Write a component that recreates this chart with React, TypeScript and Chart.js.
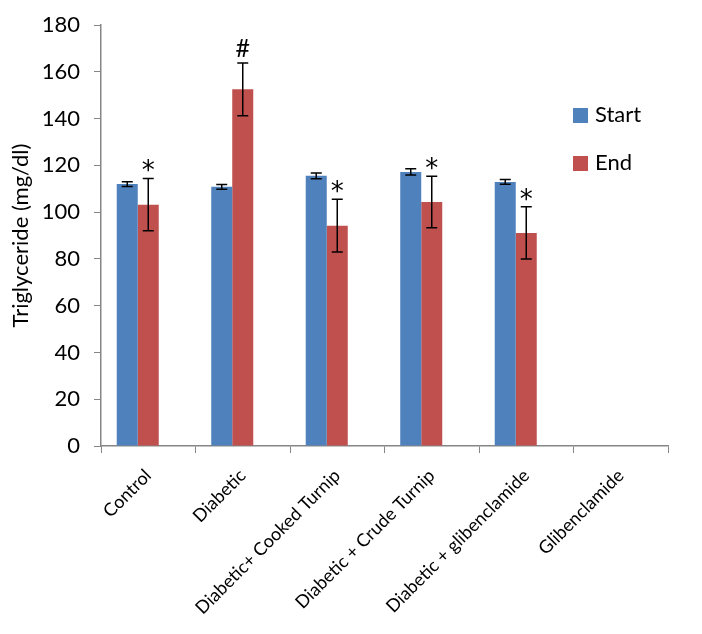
import React, { useEffect, useRef } from "react";
import { Chart, registerables } from "chart.js";

Chart.register(...registerables);

const categories = [
  "Control",
  "Diabetic",
  "Diabetic+ Cooked Turnip",
  "Diabetic + Crude Turnip",
  "Diabetic + glibenclamide",
  "Glibenclamide",
];
const startValues = [112, 110.8, 115.5, 117.2, 112.9, null];
const startErrors = [1, 1, 1.2, 1.3, 1, null];
const endValues = [103.2, 152.5, 94.2, 104.3, 91.1, null];
const endErrors = [11.2, 11.3, 11.3, 11, 11.2, null];
const endMarks = ["*", "#", "*", "*", "*", ""];
const seriesLabels = ["Start", "End"];
const seriesColors = ["#4F81BD", "#C0504D"];
const yMin = 0;
const yMax = 180;
const yStep = 20;
const yTitle = "Triglyceride (mg/dl)";

const FONT = "Lato";

const errorBarPlugin = {
  id: "errorBars",
  afterDatasetsDraw(chart: any) {
    const ctx = chart.ctx;
    const yScale = chart.scales.y;
    const errs = [startErrors, endErrors];
    const vals = [startValues, endValues];
    ctx.save();
    ctx.strokeStyle = "#000";
    ctx.lineWidth = 1.5;
    for (let d = 0; d < 2; d++) {
      const meta = chart.getDatasetMeta(d);
      meta.data.forEach((bar: any, i: number) => {
        const v = vals[d][i];
        const e = errs[d][i];
        if (v == null || e == null) return;
        const x = bar.x;
        const yt = yScale.getPixelForValue(v + e);
        const yb = yScale.getPixelForValue(v - e);
        const cap = 5.5;
        ctx.beginPath();
        ctx.moveTo(x, yt);
        ctx.lineTo(x, yb);
        ctx.moveTo(x - cap, yt);
        ctx.lineTo(x + cap, yt);
        ctx.moveTo(x - cap, yb);
        ctx.lineTo(x + cap, yb);
        ctx.stroke();
      });
    }
    // significance marks above End bars
    const meta = chart.getDatasetMeta(1);
    ctx.fillStyle = "#000";
    ctx.textAlign = "center";
    ctx.textBaseline = "alphabetic";
    meta.data.forEach((bar: any, i: number) => {
      const mark = endMarks[i];
      const v = endValues[i];
      const e = endErrors[i];
      if (!mark || v == null || e == null) return;
      ctx.font = mark === "*" ? `26px "DejaVu Sans"` : `25px ${FONT}`;
      const yt = yScale.getPixelForValue(v + e);
      const m = ctx.measureText(mark);
      const desc = m.actualBoundingBoxDescent || 0;
      ctx.fillText(mark, bar.x, yt - 6 - desc);
    });
    ctx.restore();
  },
};

const legendPlugin = {
  id: "customLegend",
  afterDraw(chart: any) {
    const ctx = chart.ctx;
    const area = chart.chartArea;
    ctx.save();
    ctx.font = `22px ${FONT}`;
    ctx.textBaseline = "middle";
    ctx.textAlign = "left";
    seriesLabels.forEach((lab, i) => {
      const bx = area.right - 95;
      const cy = area.top + 90 + i * 48;
      ctx.fillStyle = seriesColors[i];
      ctx.fillRect(bx, cy - 7, 15, 15);
      ctx.fillStyle = "#000";
      ctx.fillText(lab, bx + 22, cy);
    });
    ctx.restore();
  },
};

export default function App() {
  const ref = useRef<HTMLCanvasElement | null>(null);
  useEffect(() => {
    if (!ref.current) return;
    const chart = new Chart(ref.current, {
      type: "bar",
      data: {
        labels: categories,
        datasets: [
          {
            label: seriesLabels[0],
            data: startValues,
            backgroundColor: seriesColors[0],
            categoryPercentage: 0.667,
            barPercentage: 1,
          },
          {
            label: seriesLabels[1],
            data: endValues,
            backgroundColor: seriesColors[1],
            categoryPercentage: 0.667,
            barPercentage: 1,
          },
          {
            label: "",
            data: categories.map(() => null),
            backgroundColor: "rgba(0,0,0,0)",
            categoryPercentage: 0.667,
            barPercentage: 1,
          },
        ],
      },
      options: {
        animation: false,
        responsive: true,
        maintainAspectRatio: false,
        layout: { padding: { top: 17, right: 26, left: 0, bottom: 0 } },
        plugins: {
          legend: { display: false },
          tooltip: { enabled: false },
        },
        scales: {
          x: {
            grid: {
              display: true,
              drawOnChartArea: false,
              tickLength: 7,
              color: "#868686",
              offset: true,
            },
            border: { color: "#868686", width: 1.5 },
            ticks: {
              color: "#000",
              font: { family: FONT, size: 18 },
              minRotation: 45,
              maxRotation: 45,
              autoSkip: false,
              padding: 12,
            },
            afterFit(scale: any) {
              scale.height = 180;
            },
          },
          y: {
            min: yMin,
            max: yMax,
            grid: {
              display: true,
              drawOnChartArea: false,
              tickLength: 7,
              color: "#868686",
            },
            border: { color: "#868686", width: 1.5 },
            ticks: {
              stepSize: yStep,
              color: "#000",
              font: { family: FONT, size: 22 },
              padding: 14,
            },
            title: {
              display: true,
              text: yTitle,
              color: "#000",
              font: { family: FONT, size: 22 },
              padding: { top: 0, bottom: 0 },
            },
            afterFit(scale: any) {
              scale.width = 93;
              scale.paddingTop = 0;
              scale.paddingBottom = 0;
            },
          },
        },
      },
      plugins: [errorBarPlugin, legendPlugin],
    });
    return () => chart.destroy();
  }, []);
  return (
    <div style={{ width: 686, height: 618, position: "relative" }}>
      <canvas ref={ref} />
    </div>
  );
}
